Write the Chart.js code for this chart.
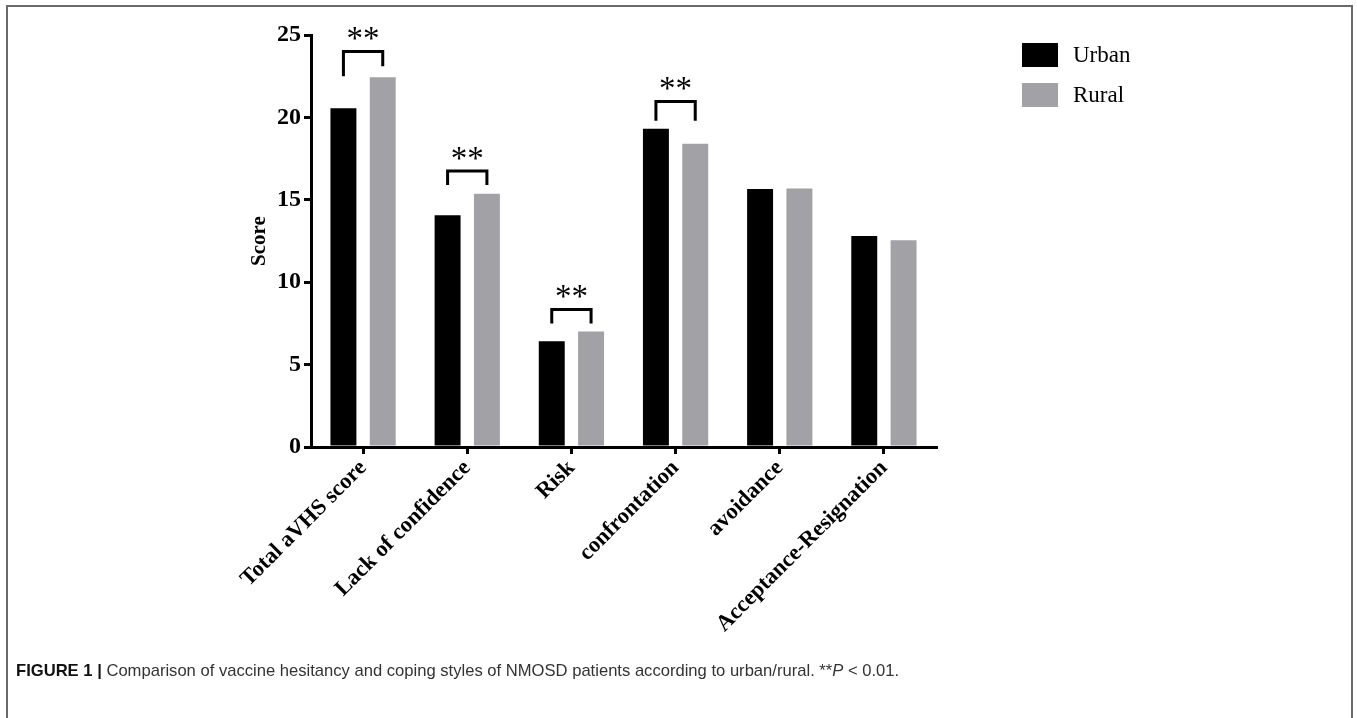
<!DOCTYPE html>
<html>
<head>
<meta charset="utf-8">
<script src="https://cdn.jsdelivr.net/npm/chart.js@4/dist/chart.umd.min.js"></script>
<style>
  html, body { margin:0; padding:0; background:#fff; }
  #wrap { position:relative; width:1357px; height:718px; overflow:hidden; }
  #frame { position:absolute; left:6px; top:5px; width:1347px; height:760px;
           border-top:2px solid #6a6a6a; border-left:2px solid #6a6a6a; border-right:2px solid #6a6a6a; box-sizing:border-box; }
  canvas { position:absolute; left:0; top:0; }
  #caption { position:absolute; left:16px; top:661px; font-family:"Liberation Sans", Arial, sans-serif;
             font-size:16.6px; color:#333; white-space:nowrap; }
  #caption b { color:#111; }
</style>
</head>
<body>
<div id="wrap">
  <div id="frame"></div>
  <canvas id="c" width="1357" height="718"></canvas>
  <div id="caption"><b>FIGURE 1 |</b> Comparison of vaccine hesitancy and coping styles of NMOSD patients according to urban/rural. **<i>P</i> &lt; 0.01.</div>
</div>
<script>
const categories = ['Total aVHS score', 'Lack of confidence', 'Risk', 'confrontation', 'avoidance', 'Acceptance-Resignation'];
const urbanValues = [20.56, 14.06, 6.42, 19.31, 15.65, 12.81];
const ruralValues = [22.44, 15.37, 7.01, 18.40, 15.68, 12.55];
const seriesNames = ['Urban', 'Rural'];
const yTicks = [0, 5, 10, 15, 20, 25];

// significance brackets (values in score units)
const sigCategoryIndex = [0, 1, 2, 3];
const sigBracketLevel = [24.0, 16.75, 8.35, 20.97];
const sigLegUrbanEnd = [22.5, 15.9, 7.5, 19.8];
const sigLegRuralEnd = [23.1, 15.9, 7.5, 19.8];
const sigLabels = ['**', '**', '**', '**'];

const URBAN_COLOR = '#000000';
const RURAL_COLOR = '#a2a2a6';
const SERIF = '"Liberation Serif", "Times New Roman", serif';

const sigPlugin = {
  id: 'sig',
  afterDatasetsDraw(chart) {
    const ctx = chart.ctx;
    const y = chart.scales.y;
    const m0 = chart.getDatasetMeta(0), m1 = chart.getDatasetMeta(1);
    ctx.save();
    ctx.strokeStyle = '#000';
    ctx.lineWidth = 3;
    ctx.lineCap = 'butt';
    sigCategoryIndex.forEach((ci, k) => {
      const x0 = m0.data[ci].x, x1 = m1.data[ci].x;
      const yb = y.getPixelForValue(sigBracketLevel[k]);
      const ya = y.getPixelForValue(sigLegUrbanEnd[k]);
      const yc = y.getPixelForValue(sigLegRuralEnd[k]);
      ctx.beginPath();
      ctx.moveTo(x0, ya);
      ctx.lineTo(x0, yb);
      ctx.lineTo(x1, yb);
      ctx.lineTo(x1, yc);
      ctx.stroke();
      ctx.fillStyle = '#000';
      ctx.font = '33px ' + SERIF;
      ctx.textAlign = 'center';
      ctx.textBaseline = 'alphabetic';
      ctx.fillText(sigLabels[k], (x0 + x1) / 2, yb - 2);
    });
    ctx.restore();
  }
};

const legendPlugin = {
  id: 'customLegend',
  afterDraw(chart) {
    const ctx = chart.ctx;
    ctx.save();
    const colors = [URBAN_COLOR, RURAL_COLOR];
    seriesNames.forEach((name, i) => {
      const top = 43 + i * 40;
      ctx.fillStyle = colors[i];
      ctx.fillRect(1022, top, 36, 24);
      ctx.fillStyle = '#000';
      ctx.font = '23px ' + SERIF;
      ctx.textAlign = 'left';
      ctx.textBaseline = 'middle';
      ctx.fillText(name, 1073, top + 13);
    });
    ctx.restore();
  }
};

new Chart(document.getElementById('c'), {
  type: 'bar',
  data: {
    labels: categories,
    datasets: [
      { label: seriesNames[0], data: urbanValues, backgroundColor: URBAN_COLOR, borderWidth: 0 },
      { label: seriesNames[1], data: ruralValues, backgroundColor: RURAL_COLOR, borderWidth: 0 }
    ]
  },
  options: {
    responsive: false,
    animation: false,
    devicePixelRatio: 1,
    datasets: { bar: { categoryPercentage: 0.755, barPercentage: 0.66 } },
    layout: { padding: { left: 243, right: 421, top: 35, bottom: 0 } },
    plugins: { legend: { display: false }, tooltip: { enabled: false } },
    scales: {
      x: {
        afterFit(s) { s.height = 271; },
        grid: { display: true, offset: false, drawOnChartArea: false, drawTicks: true, tickLength: 7, lineWidth: 3, color: '#000' },
        border: { display: true, width: 3, color: '#000' },
        ticks: { color: '#000', font: { family: SERIF, size: 22.5, weight: 'bold' }, minRotation: 45, maxRotation: 45, padding: 1, autoSkip: false }
      },
      y: {
        min: 0, max: 25,
        afterFit(s) { s.width = 68; },
        afterBuildTicks(s) { s.ticks = yTicks.map(v => ({ value: v })); },
        grid: { display: true, drawOnChartArea: false, drawTicks: true, tickLength: 7, lineWidth: 3, color: '#000' },
        border: { display: true, width: 3, color: '#000' },
        ticks: { color: '#000', font: { family: SERIF, size: 24, weight: 'bold' }, padding: 3 },
        title: { display: true, text: 'Score', color: '#000', font: { family: SERIF, size: 21, weight: 'bold' }, padding: { top: 4, bottom: 0 } }
      }
    }
  },
  plugins: [sigPlugin, legendPlugin]
});
</script>
</body>
</html>
